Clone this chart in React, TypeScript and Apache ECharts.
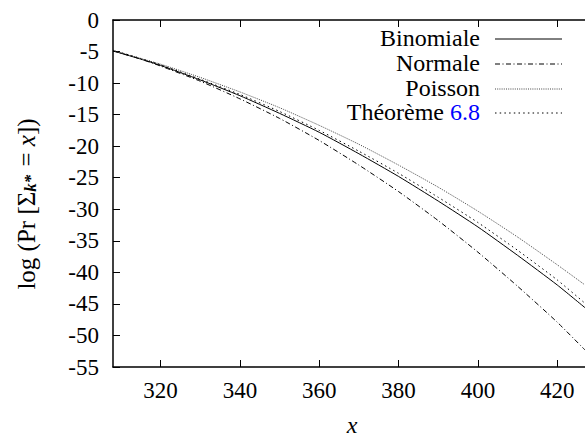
import React, { useEffect, useRef } from "react";
import * as echarts from "echarts";

const xValues = [308, 315, 320, 330, 340, 350, 360, 370, 380, 390, 400, 410, 420, 427];
const binomiale = [-4.9, -6.2, -7.2, -9.5, -12.0, -14.8, -17.8, -21.2, -24.8, -28.7, -32.8, -37.3, -42.0, -45.6];
const normale = [-4.9, -6.2, -7.3, -9.7, -12.5, -15.6, -19.1, -23.0, -27.2, -31.8, -36.8, -42.2, -47.9, -52.3];
const poisson = [-4.8, -6.1, -7.0, -9.1, -11.4, -13.9, -16.7, -19.7, -23.0, -26.5, -30.3, -34.4, -38.8, -42.0];
const theoreme = [-4.8, -6.1, -7.1, -9.4, -11.8, -14.5, -17.5, -20.8, -24.3, -28.1, -32.1, -36.5, -41.2, -44.9];
const xTicks = [320, 340, 360, 380, 400, 420];

const FONT = "Liberation Serif";

function pairs(ys: number[]) {
  return xValues.map((x, i) => [x, ys[i]]);
}

export default function App() {
  const ref = useRef<HTMLDivElement>(null);
  useEffect(() => {
    document.body.style.margin = "0";
    const chart = echarts.init(ref.current!, null, { renderer: "svg" });
    const legendRows = [
      { name: "Binomiale", y: 38, dash: "solid" as any, color: "#000" },
      { name: "Normale", y: 63, dash: [5, 2.5, 1, 2.5], color: "#000" },
      { name: "Poisson", y: 88, dash: [1, 1.2], color: "#444" },
      { name: "Théorème", y: 112, dash: [1.5, 3.2], color: "#000" },
    ];
    const rt = { fontFamily: FONT, fontSize: 24, fill: "#000" };
    const graphic: any[] = [];
    legendRows.forEach((r, i) => {
      graphic.push({
        type: "text",
        x: 480,
        y: r.y,
        style: {
          text: i === 3 ? "{a|Théorème }{b|6.8}" : `{a|${r.name}}`,
          align: "right",
          verticalAlign: "middle",
          rich: { a: rt, b: { fontFamily: FONT, fontSize: 24, fill: "#0000ff" } },
        },
      });
      graphic.push({
        type: "line",
        shape: { x1: 495, y1: r.y + 1, x2: 562, y2: r.y + 1 },
        style: { stroke: r.color, lineWidth: 1, lineDash: r.dash },
      });
    });
    graphic.push({
      type: "text",
      x: 26,
      y: 204,
      rotation: Math.PI / 2,
      style: {
        text: "{a|log (Pr [Σ}{s|k*}{a| = }{i|x}{a|])}",
        align: "center",
        verticalAlign: "middle",
        rich: {
          a: { fontFamily: FONT, fontSize: 25, fill: "#000", lineHeight: 28 },
          i: { fontFamily: FONT, fontSize: 25, fontStyle: "italic", fill: "#000", lineHeight: 28 },
          s: { fontFamily: FONT, fontSize: 17, fontStyle: "italic", fontWeight: "bold", fill: "#000", lineHeight: 20, padding: [8, 2, 0, 0] },
        },
      },
    });
    graphic.push({
      type: "text",
      x: 352,
      y: 425,
      style: {
        text: "{i|x}",
        align: "center",
        verticalAlign: "middle",
        rich: { i: { fontFamily: FONT, fontSize: 24, fontStyle: "italic", fill: "#000" } },
      },
    });

    const mk = (name: string, ys: number[], type: any, color: string) => ({
      name,
      type: "line",
      data: pairs(ys),
      smooth: 0.2,
      showSymbol: false,
      symbol: "none",
      clip: true,
      lineStyle: { color, width: 1, type },
    });

    const tickRich = { t: { fontFamily: FONT, fontSize: 23, color: "#000" } };

    chart.setOption({
      animation: false,
      backgroundColor: "#fff",
      textStyle: { fontFamily: FONT },
      grid: { left: 113, top: 20, right: 0, bottom: 72, containLabel: false },
      xAxis: [
        {
          type: "value",
          min: 308,
          max: 427,
          position: "bottom",
          axisLine: { show: true, onZero: false, lineStyle: { color: "#000", width: 1.5 } },
          axisTick: { show: true, inside: true, length: 7, customValues: xTicks, lineStyle: { color: "#000", width: 1 } },
          axisLabel: { show: true, customValues: xTicks, margin: 12, formatter: "{t|{value}}", rich: tickRich },
          splitLine: { show: false },
        },
        {
          type: "value",
          min: 308,
          max: 427,
          position: "top",
          axisLine: { show: true, onZero: false, lineStyle: { color: "#000", width: 1.5 } },
          axisTick: { show: true, inside: true, length: 7, customValues: xTicks, lineStyle: { color: "#000", width: 1 } },
          axisLabel: { show: false },
          splitLine: { show: false },
        },
      ],
      yAxis: {
        type: "value",
        min: -55,
        max: 0,
        interval: 5,
        axisLine: { show: true, onZero: false, lineStyle: { color: "#000", width: 1.5 } },
        axisTick: { show: true, inside: true, length: 7, lineStyle: { color: "#000", width: 1 } },
        axisLabel: { margin: 14, formatter: "{t|{value}}", rich: tickRich },
        splitLine: { show: false },
      },
      series: [
        mk("Binomiale", binomiale, "solid", "#000"),
        mk("Normale", normale, [5, 2.5, 1, 2.5], "#000"),
        mk("Poisson", poisson, [1, 1.2], "#444"),
        mk("Théorème 6.8", theoreme, [1.5, 3.2], "#000"),
      ],
      graphic,
    });
    return () => chart.dispose();
  }, []);
  return <div ref={ref} style={{ width: 585, height: 439 }} />;
}
